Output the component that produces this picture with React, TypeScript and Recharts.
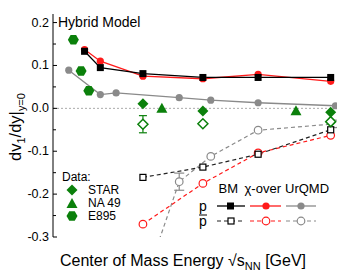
import {
  ComposedChart,
  ErrorBar,
  Line,
  ReferenceLine,
  Scatter,
  XAxis,
  YAxis,
} from "recharts";

type Pt = { x: number; y: number; e?: number };

const xTicksAll = [4, 6, 8, 10, 12, 14, 16, 18, 20];
const yTicksAll = [-0.3, -0.25, -0.2, -0.15, -0.1, -0.05, 0, 0.05, 0.1, 0.15, 0.2];

// hybrid model, protons (solid)
const bmP: Pt[] = [
  { x: 4.0, y: 0.133 },
  { x: 5.0, y: 0.095 },
  { x: 7.7, y: 0.081 },
  { x: 11.5, y: 0.072 },
  { x: 15.0, y: 0.072 },
  { x: 19.6, y: 0.072 },
];
const chiP: Pt[] = [
  { x: 4.0, y: 0.137 },
  { x: 5.0, y: 0.11 },
  { x: 7.7, y: 0.075 },
  { x: 11.5, y: 0.069 },
  { x: 15.0, y: 0.079 },
  { x: 19.6, y: 0.063 },
];
const urqmdP: Pt[] = [
  { x: 3.0, y: 0.089 },
  { x: 5.0, y: 0.032 },
  { x: 6.0, y: 0.036 },
  { x: 10.0, y: 0.025 },
  { x: 12.0, y: 0.019 },
  { x: 15.0, y: 0.013 },
  { x: 19.9, y: 0.006 },
];

// antiprotons (dashed)
const bmPbar: Pt[] = [
  { x: 7.7, y: -0.161 },
  { x: 11.5, y: -0.137 },
  { x: 15.0, y: -0.107 },
  { x: 19.6, y: -0.05 },
];
const chiPbar: Pt[] = [
  { x: 7.7, y: -0.27 },
  { x: 11.5, y: -0.175 },
  { x: 15.0, y: -0.104 },
  { x: 19.6, y: -0.063 },
];
const urqmdPbar: Pt[] = [
  { x: 6.0, y: -0.6 },
  { x: 10.0, y: -0.171, e: 0.02 },
  { x: 12.0, y: -0.112 },
  { x: 15.0, y: -0.051 },
  { x: 19.9, y: -0.036 },
];

// data
const starP: Pt[] = [
  { x: 7.7, y: 0.011 },
  { x: 11.5, y: -0.006 },
  { x: 19.6, y: -0.009 },
];
const starPbar: Pt[] = [
  { x: 7.7, y: -0.037, e: 0.02 },
  { x: 11.5, y: -0.036 },
  { x: 19.6, y: -0.031 },
];
const na49P: Pt[] = [
  { x: 8.9, y: -0.001, e: 0.006 },
  { x: 17.4, y: -0.007, e: 0.006 },
];
const e895P: Pt[] = [
  { x: 3.29, y: 0.16 },
  { x: 3.78, y: 0.087 },
  { x: 4.27, y: 0.041 },
];

const GREEN = "#0b800b";
const RED = "#ff1a1a";
const GRAY = "#8a8a8a";
const FONT = "'Liberation Sans', Arial, sans-serif";

const diamond = (cx: number, cy: number, r: number) =>
  `M${cx},${cy - r}L${cx + r},${cy}L${cx},${cy + r}L${cx - r},${cy}Z`;
const triangle = (cx: number, cy: number) =>
  `M${cx},${cy - 6}L${cx + 5.5},${cy + 4}L${cx - 5.5},${cy + 4}Z`;
const hexagon = (cx: number, cy: number, r: number) => {
  let d = "";
  for (let i = 0; i < 6; i++) {
    const a = (Math.PI / 3) * i;
    d += `${i === 0 ? "M" : "L"}${cx + r * Math.cos(a)},${cy + r * Math.sin(a)}`;
  }
  return d + "Z";
};

const StarFilled = (p: any) => <path d={diamond(p.cx, p.cy, 5.5)} fill={GREEN} />;
const StarOpen = (p: any) => (
  <path d={diamond(p.cx, p.cy, 5)} fill="#fff" stroke={GREEN} strokeWidth={1.5} />
);
const NA49 = (p: any) => <path d={triangle(p.cx, p.cy)} fill={GREEN} />;
const E895 = (p: any) => <path d={hexagon(p.cx, p.cy, 5.5)} fill={GREEN} />;

const dotFn = (kind: string, color: string) => (p: any) => {
  const { cx, cy, key } = p;
  if (cx == null || cy == null) return <g key={key} />;
  if (kind === "sq")
    return <rect key={key} x={cx - 3.5} y={cy - 3.5} width={7} height={7} fill={color} />;
  if (kind === "osq")
    return (
      <rect key={key} x={cx - 3} y={cy - 3} width={6} height={6} fill="#fff" stroke={color} strokeWidth={1.2} />
    );
  if (kind === "oc")
    return <circle key={key} cx={cx} cy={cy} r={3.8} fill="#fff" stroke={color} strokeWidth={1.2} />;
  return <circle key={key} cx={cx} cy={cy} r={3.6} fill={color} />;
};

const BottomTick = (p: any) => {
  const { x, y, payload } = p;
  const v = payload.value;
  const major = v % 4 === 0;
  return (
    <g>
      {v < 20 && <line x1={x} x2={x} y1={y} y2={y - (major ? 4 : 3)} stroke="#000" />}
      {major && (
        <text x={x} y={y + 15} textAnchor="middle" fontSize={12.5} fontFamily={FONT} fill="#000">
          {v}
        </text>
      )}
    </g>
  );
};
const TopTick = (p: any) => {
  const { x, y, payload } = p;
  const major = payload.value % 4 === 0;
  return <line x1={x} x2={x} y1={y} y2={y + (major ? 4 : 3)} stroke="#000" />;
};
const LeftTick = (p: any) => {
  const { x, y, payload } = p;
  const v = payload.value;
  const major = Math.round(v * 100) % 10 === 0;
  return (
    <g>
      <line x1={x} x2={x + (major ? 4 : 3)} y1={y} y2={y} stroke="#000" />
      {major && (
        <text x={x - 4} y={y + 4} textAnchor="end" fontSize={12.5} fontFamily={FONT} fill="#000">
          {v.toFixed(1)}
        </text>
      )}
    </g>
  );
};
const RightTick = (p: any) => {
  const { x, y, payload } = p;
  const major = Math.round(payload.value * 100) % 10 === 0;
  return <line x1={x} x2={x - (major ? 4 : 3)} y1={y} y2={y} stroke="#000" />;
};

export default function App() {
  return (
    <div style={{ position: "absolute", left: 0, top: 0, width: 354, height: 274, background: "#fff" }}>
      <ComposedChart width={354} height={274} margin={{ top: 14, right: 17, bottom: 37, left: 0 }}>
        <XAxis
          xAxisId="b"
          type="number"
          dataKey="x"
          domain={[2, 20]}
          ticks={xTicksAll}
          interval={0}
          height={0}
          tickSize={0}
          tickMargin={0}
          tickLine={false}
          tick={BottomTick}
          axisLine={{ stroke: "#000" }}
          allowDataOverflow
        />
        <XAxis
          xAxisId="t"
          orientation="top"
          type="number"
          domain={[2, 20]}
          ticks={xTicksAll.slice(0, -1)}
          interval={0}
          height={0}
          tickSize={0}
          tickMargin={0}
          tickLine={false}
          tick={TopTick}
          axisLine={{ stroke: "#000" }}
          allowDataOverflow
        />
        <YAxis
          yAxisId="l"
          type="number"
          dataKey="y"
          domain={[-0.3, 0.22]}
          ticks={yTicksAll}
          interval={0}
          width={53}
          tickSize={0}
          tickMargin={0}
          tickLine={false}
          tick={LeftTick}
          axisLine={{ stroke: "#000" }}
          allowDataOverflow
        />
        <YAxis
          yAxisId="r"
          orientation="right"
          type="number"
          domain={[-0.3, 0.22]}
          ticks={yTicksAll}
          interval={0}
          width={0}
          tickSize={0}
          tickMargin={0}
          tickLine={false}
          tick={RightTick}
          axisLine={{ stroke: "#000" }}
          allowDataOverflow
        />
        <ReferenceLine xAxisId="b" yAxisId="l" y={0} stroke="#aaa" strokeDasharray="2 2" />

        <Line xAxisId="b" yAxisId="l" data={urqmdPbar} dataKey="y" stroke={GRAY} strokeWidth={1.2} strokeDasharray="4 3" dot={dotFn("oc", GRAY)} isAnimationActive={false}>
          <ErrorBar dataKey="e" direction="y" width={5} stroke={GRAY} strokeWidth={1.2} />
        </Line>
        <Line xAxisId="b" yAxisId="l" data={chiPbar} dataKey="y" stroke={RED} strokeWidth={1.2} strokeDasharray="4 3" dot={dotFn("oc", RED)} isAnimationActive={false} />
        <Line xAxisId="b" yAxisId="l" data={bmPbar} dataKey="y" stroke="#222" strokeWidth={1.2} strokeDasharray="4 3" dot={dotFn("osq", "#000")} isAnimationActive={false} />

        <Line xAxisId="b" yAxisId="l" data={urqmdP} dataKey="y" stroke={GRAY} strokeWidth={1.3} dot={dotFn("c", GRAY)} isAnimationActive={false} />
        <Line xAxisId="b" yAxisId="l" data={chiP} dataKey="y" stroke={RED} strokeWidth={1.3} dot={dotFn("c", RED)} isAnimationActive={false} />
        <Line xAxisId="b" yAxisId="l" data={bmP} dataKey="y" stroke="#000" strokeWidth={1.3} dot={dotFn("sq", "#000")} isAnimationActive={false} />

        <Scatter xAxisId="b" yAxisId="l" data={starPbar} dataKey="y" shape={StarOpen} isAnimationActive={false}>
          <ErrorBar dataKey="e" direction="y" width={4} stroke={GREEN} strokeWidth={1.2} />
        </Scatter>
        <Scatter xAxisId="b" yAxisId="l" data={starP} dataKey="y" shape={StarFilled} isAnimationActive={false} />
        <Scatter xAxisId="b" yAxisId="l" data={na49P} dataKey="y" shape={NA49} isAnimationActive={false}>
          <ErrorBar dataKey="e" direction="y" width={0} stroke={GREEN} strokeWidth={1.2} />
        </Scatter>
        <Scatter xAxisId="b" yAxisId="l" data={e895P} dataKey="y" shape={E895} isAnimationActive={false} />
      </ComposedChart>

      <svg
        width={354}
        height={274}
        style={{ position: "absolute", left: 0, top: 0, pointerEvents: "none" }}
        fontFamily={FONT}
      >
        <text x={58} y={27} fontSize={14}>Hybrid Model</text>

        <text transform="translate(21,127) rotate(-90)" textAnchor="middle" fontSize={16.5}>
          dv<tspan fontSize={11} dy={4}>1</tspan>
          <tspan dy={-4}>/dy|</tspan>
          <tspan fontSize={11} dy={4}>y=0</tspan>
        </text>

        <text x={183} y={266} textAnchor="middle" fontSize={16}>
          Center of Mass Energy √s<tspan fontSize={11} dy={4}>NN</tspan>
          <tspan dy={-4}> [GeV]</tspan>
        </text>

        <text x={62} y={181} fontSize={12}>Data:</text>
        <path d={diamond(72, 190, 5.5)} fill={GREEN} />
        <text x={88} y={194} fontSize={12}>STAR</text>
        <path d={triangle(72, 204)} fill={GREEN} />
        <text x={88} y={207} fontSize={12}>NA 49</text>
        <path d={hexagon(72, 216, 5.5)} fill={GREEN} />
        <text x={88} y={220} fontSize={12}>E895</text>

        <text x={238} y={193} fontSize={13} textAnchor="end">BM</text>
        <text x={281} y={193} fontSize={13} textAnchor="end">χ-over</text>
        <text x={285} y={193} fontSize={13}>UrQMD</text>

        <text x={199} y={211} fontSize={14}>p</text>
        <text x={199} y={226} fontSize={14}>p</text>
        <line x1={199} x2={207} y1={215} y2={215} stroke="#000" strokeWidth={1} />

        <line x1={217} x2={245} y1={206} y2={206} stroke="#000" strokeWidth={1.3} />
        <rect x={227} y={202.5} width={7} height={7} fill="#000" />
        <line x1={250} x2={281} y1={206} y2={206} stroke={RED} strokeWidth={1.3} />
        <circle cx={266} cy={206} r={3.6} fill={RED} />
        <line x1={286} x2={316} y1={206} y2={206} stroke={GRAY} strokeWidth={1.3} />
        <circle cx={301} cy={206} r={3.6} fill={GRAY} />

        <line x1={217} x2={245} y1={221} y2={221} stroke="#222" strokeWidth={1.2} strokeDasharray="4 3" />
        <rect x={228} y={218} width={6} height={6} fill="#fff" stroke="#000" strokeWidth={1.2} />
        <line x1={250} x2={281} y1={221} y2={221} stroke={RED} strokeWidth={1.2} strokeDasharray="4 3" />
        <circle cx={266} cy={221} r={3.8} fill="#fff" stroke={RED} strokeWidth={1.2} />
        <line x1={286} x2={316} y1={221} y2={221} stroke={GRAY} strokeWidth={1.2} strokeDasharray="4 3" />
        <circle cx={301} cy={221} r={3.8} fill="#fff" stroke={GRAY} strokeWidth={1.2} />
      </svg>
    </div>
  );
}
